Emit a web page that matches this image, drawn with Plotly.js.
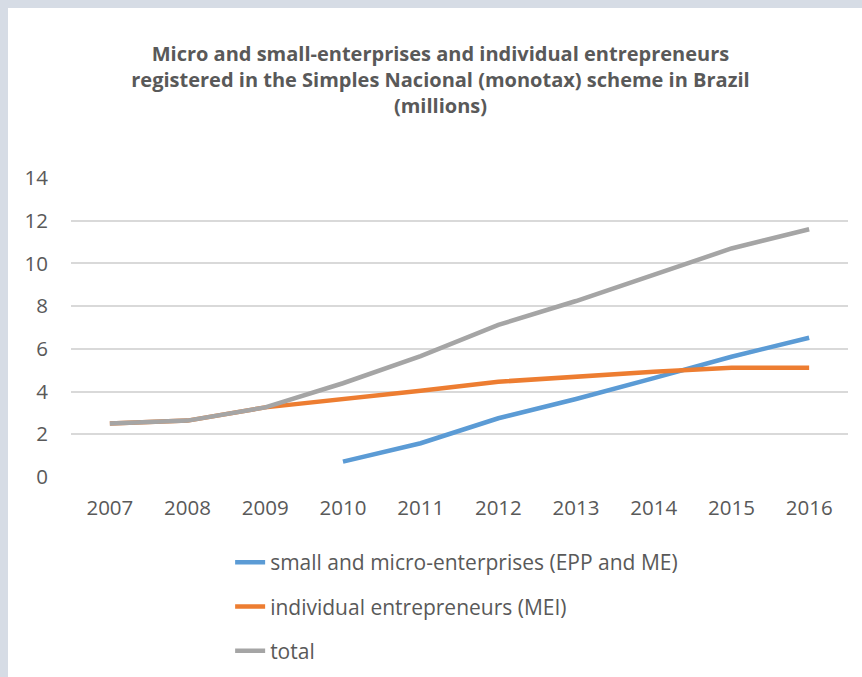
<!DOCTYPE html>
<html>
<head>
<meta charset="utf-8">
<script src="https://cdn.plot.ly/plotly-3.0.1.min.js"></script>
<style>
  html, body { margin: 0; padding: 0; background: #D6DCE5; width: 862px; height: 677px; overflow: hidden; }
  #frame { position: absolute; left: 8px; top: 8px; width: 854px; height: 669px; background: #ffffff; }
  #chart { width: 854px; height: 669px; }
</style>
</head>
<body>
<div id="frame"><div id="chart"></div></div>
<script>
const years = ['2007','2008','2009','2010','2011','2012','2013','2014','2015','2016'];
const smallMicro = [null, null, null, 0.72, 1.58, 2.75, 3.65, 4.63, 5.63, 6.52];
const individual = [2.51, 2.64, 3.26, 3.64, 4.04, 4.46, 4.70, 4.93, 5.12, 5.12];
const total = [2.51, 2.64, 3.26, 4.39, 5.66, 7.12, 8.24, 9.46, 10.70, 11.60];
const seriesNames = ['small and micro-enterprises (EPP and ME)', 'individual entrepreneurs (MEI)', 'total'];
const seriesColors = ['#5B9BD5', '#ED7D31', '#A5A5A5'];
const yTicks = [0, 2, 4, 6, 8, 10, 12, 14];
const titleText = 'Micro and small-enterprises and individual entrepreneurs<br>registered in the Simples Nacional (monotax) scheme in Brazil<br>(millions)';

const FONT = '"Open Sans", Lato, sans-serif';
const TXT = '#595959';
const seriesValues = [smallMicro, individual, total];

const traces = seriesValues.map((vals, i) => ({
  type: 'scatter',
  mode: 'lines',
  x: years,
  y: vals,
  name: seriesNames[i],
  legendgroup: 'g' + i,
  line: { color: seriesColors[i], width: 4.5 },
  connectgaps: false,
  hoverinfo: 'x+y+name'
}));

const layout = {
  width: 854,
  height: 669,
  paper_bgcolor: '#ffffff',
  plot_bgcolor: '#ffffff',
  margin: { l: 63, r: 14, t: 170, b: 200, autoexpand: false },
  font: { family: FONT, color: TXT, size: 20 },
  title: {
    text: titleText,
    font: { family: FONT, size: 20, color: TXT, weight: 'bold' },
    x: 0.5064,
    xanchor: 'center',
    xref: 'container',
    y: 0.9205,
    yanchor: 'middle',
    yref: 'container'
  },
  xaxis: {
    type: 'category',
    range: [-0.5, 9.5],
    showgrid: false,
    zeroline: false,
    showline: false,
    ticks: '',
    tickfont: { family: FONT, size: 20.5, color: TXT },
    ticklabelstandoff: 16,
    fixedrange: true
  },
  yaxis: {
    range: [0, 14],
    tickvals: yTicks,
    ticktext: yTicks.map(String),
    showgrid: true,
    gridcolor: '#D9D9D9',
    gridwidth: 1.5,
    zeroline: false,
    showline: false,
    ticks: '',
    tickfont: { family: FONT, size: 20.5, color: TXT },
    ticklabelstandoff: 22,
    fixedrange: true
  },
  showlegend: true,
  legend: {
    orientation: 'v',
    x: 0.2048,
    xanchor: 'left',
    y: -0.2177,
    yanchor: 'top',
    font: { family: FONT, size: 21, color: TXT },
    tracegroupgap: 14,
    traceorder: 'grouped',
    bgcolor: 'rgba(0,0,0,0)'
  },
  hovermode: 'closest'
};

Plotly.newPlot('chart', traces, layout, { displayModeBar: false, staticPlot: false });
</script>
</body>
</html>
